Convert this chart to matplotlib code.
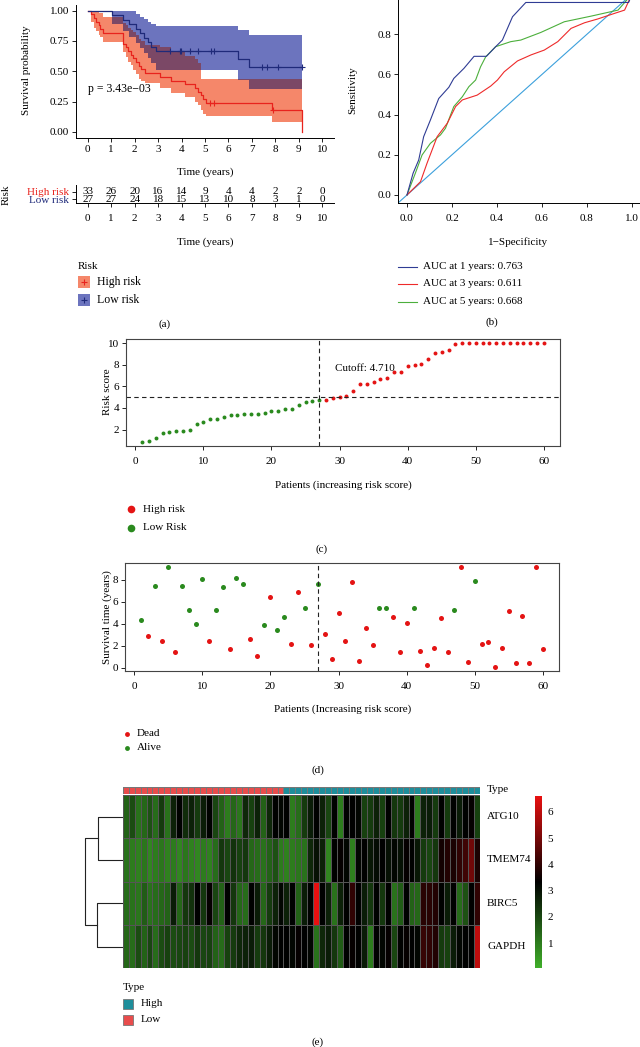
import numpy as np
import matplotlib
matplotlib.use('Agg')
import matplotlib.pyplot as plt
from matplotlib.colors import LinearSegmentedColormap, ListedColormap, Normalize
from matplotlib.patches import Rectangle
from matplotlib.lines import Line2D
from matplotlib.cm import ScalarMappable

plt.rcParams['font.family'] = ['Liberation Serif', 'DejaVu Serif']
plt.rcParams['font.size'] = 8

# ---------- (a) Kaplan-Meier ----------
km_hi_t = [0, 0.14, 0.26, 0.36, 0.46, 0.53, 0.64, 1.50, 1.64, 1.71, 1.85, 1.93, 2.07, 2.18, 2.28,
           2.43, 3.07, 3.57, 4.14, 4.56, 4.71, 4.82, 4.92, 5.06, 7.85, 9.13]
km_hi_s = [1, .970, .939, .909, .879, .848, .818, .727, .697, .667, .636, .606, .576, .545, .515,
           .485, .455, .424, .394, .364, .333, .303, .273, .242, .182, 0]
km_hi_up = [1, 1, 1, 1, .98, .98, .95, .90, .88, .86, .84, .82, .80, .77, .75,
            .72, .70, .66, .63, .60, .57, .44, .44, .44, .44, .44]
km_hi_lo = [1, .91, .855, .83, .80, .78, .745, .663, .62, .58, .55, .51, .48, .44, .42,
            .40, .36, .32, .29, .25, .22, .18, .15, .129, .08, .08]
km_hi_cens = [5.21, 5.39, 7.9]

km_lo_t = [0, 1.04, 1.50, 1.78, 2.07, 2.21, 2.38, 2.57, 2.71, 2.92, 6.42, 6.89, 9.15]
km_lo_s = [1, .963, .926, .889, .852, .815, .778, .741, .704, .667, .600, .533, .533]
km_lo_up = [1, 1, 1, 1, .97, .95, .93, .91, .89, .875, .84, .80, .80]
km_lo_lo = [1, .89, .83, .78, .73, .69, .65, .61, .57, .51, .43, .355, .355]
km_lo_cens = [3.5, 3.92, 3.96, 4.35, 4.7, 5.25, 5.39, 7.42, 7.63, 8.13, 9.15]

risk_times = [0, 1, 2, 3, 4, 5, 6, 7, 8, 9, 10]
n_high = [33, 26, 20, 16, 14, 9, 4, 4, 2, 2, 0]
n_low = [27, 27, 24, 18, 15, 13, 10, 8, 3, 1, 0]
p_text = 'p = 3.43e\u221203'

# ---------- (b) ROC ----------
fpr1 = [0, .027, .052, .074, .104, .141, .186, .208, .253, .298, .353, .394, .424, .469, .528, .985, 1.0]
tpr1 = [0, .108, .174, .29, .373, .48, .536, .58, .63, .69, .69, .738, .771, .887, .958, .958, 1.0]
fpr3 = [0, .06, .089, .134, .179, .216, .246, .312, .372, .402, .432, .491, .551, .610, .670, .729,
        .789, .848, .923, .967, 1.0]
tpr3 = [0, .066, .158, .29, .357, .44, .473, .497, .542, .572, .613, .667, .697, .721, .763, .829,
        .857, .876, .904, .92, 1.0]
fpr5 = [0, .037, .067, .104, .149, .171, .208, .246, .275, .305, .327, .350, .394, .461, .506, .595,
        .699, .818, .938, 1.0]
tpr5 = [0, .108, .199, .257, .299, .332, .44, .489, .539, .572, .638, .688, .738, .763, .771, .809,
        .862, .89, .92, 1.0]
auc_labels = ['AUC at 1 years: 0.763', 'AUC at 3 years: 0.611', 'AUC at 5 years: 0.668']

# ---------- (c) risk score ----------
n_low_risk = 27
risk_score = [0.86, 0.98, 1.2, 1.69, 1.78, 1.91, 1.91, 1.97, 2.52, 2.74, 2.98, 3.02, 3.2, 3.35, 3.38,
              3.42, 3.45, 3.48, 3.54, 3.72, 3.72, 3.88, 3.91, 4.25, 4.52, 4.68, 4.71,
              4.72, 4.95, 5.05, 5.08, 5.6, 6.22, 6.22, 6.43, 6.65, 6.77, 7.32, 7.32, 7.91, 7.94,
              8.03, 8.52, 9.05, 9.14, 9.35, 9.94, 10, 10, 10, 10, 10, 10, 10, 10, 10, 10, 10, 10, 10]
cutoff_line = 5.05

# ---------- (d) survival time ----------
surv_time = [4.32, 2.92, 7.45, 2.49, 9.12, 1.46, 7.39, 5.26, 3.95, 8.09, 2.43, 5.23, 7.36, 1.76, 8.15,
             7.63, 2.61, 1.06, 3.86, 6.41, 3.43, 4.65, 2.19, 6.87, 5.41, 2.10, 7.57, 3.07, 0.82, 4.98,
             2.46, 7.78, 0.61, 3.59, 2.10, 5.41, 5.41, 4.62, 1.46, 4.10, 5.41, 1.52, 0.27, 1.82, 4.56,
             1.49, 5.29, 9.12, 0.52, 7.84, 2.19, 2.37, 0.09, 1.85, 5.17, 0.46, 4.74, 0.46, 9.15, 1.76]
status = [0, 1, 0, 1, 0, 1, 0, 0, 0, 0, 1, 0, 0, 1, 0, 0, 1, 1, 0, 1, 0, 0, 1, 1, 0, 1, 0, 1, 1, 1,
          1, 1, 1, 1, 1, 0, 0, 1, 1, 1, 0, 1, 1, 1, 1, 1, 0, 1, 1, 0, 1, 1, 1, 1, 1, 1, 1, 1, 1, 1]

# ---------- (e) heatmap ----------
genes = ['ATG10', 'TMEM74', 'BIRC5', 'GAPDH']
atg10 = [1.5, 1.9, 1.2, 1.4, 1.8, 1.3, 2.2, 1.2, 2.7, 3.3, 2.5, 2.7, 2.2, 2.8, 3.3, 2.0, 1.5, 1.0, 1.4, 1.1,
         2.6, 2.1, 2.7, 1.5, 2.6, 3.3, 3.2, 3.3, 1.0, 1.3, 2.2, 2.8, 3.3, 2.7, 2.0, 3.3, 1.0, 3.3, 3.3, 3.2,
         2.1, 2.2, 2.7, 2.1, 3.3, 2.3, 2.2, 2.7, 3.3, 1.0, 2.7, 2.8, 2.2, 3.3, 2.2, 3.3, 2.8, 3.3, 3.4, 2.1]
tmem74 = [1.2, 1.0, 0.9, 1.1, 0.8, 1.0, 1.1, 0.9, 1.0, 0.8, 1.1, 0.9, 0.8, 1.0, 0.9, 1.3,
          2.3, 2.0, 2.4, 2.1, 2.3, 1.4, 1.3, 1.2, 1.5, 1.8, 1.0, 0.9, 1.0, 1.1, 1.2,
          2.6, 3.0, 2.7, 0.8, 3.3, 3.4, 3.2, 0.9, 3.2, 3.3, 2.9, 3.1, 3.3, 3.0, 3.2, 3.0, 3.4, 3.3, 2.9,
          2.2, 2.0, 2.3, 3.6, 3.8, 3.7, 4.0, 4.2, 4.9, 3.7]
birc5 = [1.3, 1.2, 1.1, 1.6, 1.2, 1.3, 1.4, 1.5, 2.8, 1.4, 2.3, 2.4, 3.3, 2.3, 3.4, 2.0, 1.5, 3.3, 2.3, 1.4,
         1.3, 3.3, 2.8, 1.4, 2.2, 2.7, 3.2, 2.7, 3.3, 1.5, 2.8, 3.3, 6.6, 3.3, 2.7, 1.2, 2.7, 3.3, 4.0, 3.3,
         2.8, 2.3, 3.3, 2.3, 3.3, 1.2, 1.6, 3.3, 1.5, 1.4, 3.9, 3.9, 3.8, 3.3, 2.8, 3.3, 1.3, 1.8, 3.3, 4.0]
gapdh = [1.4, 1.3, 1.9, 1.5, 2.0, 1.3, 1.9, 2.1, 1.9, 2.0, 2.1, 1.9, 2.3, 2.0, 2.1, 1.5, 1.3,
         2.1, 2.2, 2.6, 2.7, 2.8, 2.2, 2.3, 2.8, 3.2, 3.3, 3.3, 3.2, 3.4, 3.3, 3.2, 1.2, 2.6, 2.8, 2.3,
         1.6, 3.3, 3.4, 3.3, 2.8, 1.0, 3.3, 3.2, 3.4, 2.0, 3.3, 3.4, 3.3, 3.2, 4.1, 4.0, 3.8, 2.2, 2.1,
         2.8, 3.2, 3.3, 3.3, 6.0]
sample_type = [0] * 27 + [1] * 33   # 0 = Low, 1 = High
merge_heights = [0.647, 0.674, 1.0]  # (ATG10,TMEM74), (BIRC5,GAPDH), root

W, H = 640, 1047
fig = plt.figure(figsize=(W / 100, H / 100), dpi=100)


def box(l, t, r, b):
    return [l / W, 1 - b / H, (r - l) / W, (b - t) / H]


def ftext(x, y, s, **kw):
    kw.setdefault('va', 'center')
    fig.text(x / W, 1 - y / H, s, **kw)


def fpt(x, y):
    return x / W, 1 - y / H


def ticks(ax):
    ax.tick_params(direction='out', length=3, width=0.6, pad=2, labelsize=8)


def step_at(tt, vals, grid):
    tt, vals = np.array(tt), np.array(vals)
    return vals[np.clip(np.searchsorted(tt, grid, side='right') - 1, 0, len(vals) - 1)]


RED = '#e8231d'
NAVY = '#1f2a7a'

# ---- (a) KM curve
ax = fig.add_axes(box(76, 4.6, 334, 138))
ax.fill_between(km_hi_t, km_hi_lo, km_hi_up, step='post', color='#f5876a', lw=0)
ax.fill_between(km_lo_t, km_lo_lo, km_lo_up, step='post', color='#6c74be', lw=0)
# overlap of the two confidence bands
grid = np.unique(np.concatenate([km_hi_t, km_lo_t]))
grid = grid[grid <= min(km_hi_t[-1], km_lo_t[-1])]
ov_lo = np.maximum(step_at(km_hi_t, km_hi_lo, grid), step_at(km_lo_t, km_lo_lo, grid))
ov_up = np.minimum(step_at(km_hi_t, km_hi_up, grid), step_at(km_lo_t, km_lo_up, grid))
ax.fill_between(grid, ov_lo, np.maximum(ov_up, ov_lo), step='post', color='#7b4866', lw=0)
ax.step(km_hi_t, km_hi_s, where='post', color=RED, lw=0.9)
ax.step(km_lo_t, km_lo_s, where='post', color=NAVY, lw=0.9)
for ct, tt, ss, col in [(km_hi_cens, km_hi_t, km_hi_s, RED), (km_lo_cens, km_lo_t, km_lo_s, NAVY)]:
    ax.plot(ct, step_at(tt, ss, ct), ls='none', marker='+', ms=4, mew=0.8, color=col)
ax.text(0, 0.35, p_text, fontsize=8.5, va='center')
ax.set_xlim(-0.5, 10.5)
ax.set_ylim(-0.05, 1.05)
ax.set_xticks(range(0, 11))
ax.set_yticks([0, 0.25, 0.5, 0.75, 1.0])
ax.set_yticklabels(['0.00', '0.25', '0.50', '0.75', '1.00'])
for s in ['top', 'right']:
    ax.spines[s].set_visible(False)
for s in ['left', 'bottom']:
    ax.spines[s].set_linewidth(0.7)
ticks(ax)
ftext(27, 70, 'Survival probability', rotation=90, ha='center')
ftext(205, 172, 'Time (years)', ha='center')

# risk table
at = fig.add_axes(box(76, 185, 334, 203))
row_hi, row_lo = 0.62, 0.22
for t, a, b in zip(risk_times, n_high, n_low):
    at.text(t, row_hi, str(a), ha='center', va='center', fontsize=8)
    at.text(t, row_lo, str(b), ha='center', va='center', fontsize=8)
at.set_xlim(-0.5, 10.5)
at.set_ylim(0, 1)
at.set_xticks(range(0, 11))
at.set_yticks([row_hi, row_lo])
at.set_yticklabels(['High risk', 'Low risk'], fontsize=8.5)
at.get_yticklabels()[0].set_color(RED)
at.get_yticklabels()[1].set_color(NAVY)
for s in ['top', 'right']:
    at.spines[s].set_visible(False)
for s in ['left', 'bottom']:
    at.spines[s].set_linewidth(0.7)
ticks(at)
at.tick_params(axis='x', pad=5)
ftext(6, 195, 'Risk', rotation=90, ha='center')
ftext(205, 242, 'Time (years)', ha='center')

# legend (a)
ftext(78, 267, 'Risk', ha='left')
fig.add_artist(Rectangle(fpt(78, 288), 12 / W, 12 / H, transform=fig.transFigure, color='#f5876a', lw=0))
fig.add_artist(Line2D([84 / W], [1 - 282 / H], marker='+', ms=5, mew=0.8, color=RED, transform=fig.transFigure))
ftext(97, 282, 'High risk', ha='left', fontsize=8.5)
fig.add_artist(Rectangle(fpt(78, 306), 12 / W, 12 / H, transform=fig.transFigure, color='#6c74be', lw=0))
fig.add_artist(Line2D([84 / W], [1 - 300 / H], marker='+', ms=5, mew=0.8, color=NAVY, transform=fig.transFigure))
ftext(97, 300, 'Low risk', ha='left', fontsize=8.5)
ftext(165, 324, '(a)', ha='center')

# ---- (b) ROC
ar = fig.add_axes(box(398, -14, 641, 203))
ar.plot([-0.04, 1.04], [-0.04, 1.04], color='#3ca0dc', lw=0.8)
ar.plot(fpr5, tpr5, color='#4caf3c', lw=0.8)
ar.plot(fpr3, tpr3, color='#ee2a2a', lw=0.8)
ar.plot(fpr1, tpr1, color='#2f3c94', lw=0.8)
ar.set_xlim(-0.04, 1.04)
ar.set_ylim(-0.04, 1.04)
ar.set_xticks([0, 0.2, 0.4, 0.6, 0.8, 1.0])
ar.set_yticks([0, 0.2, 0.4, 0.6, 0.8])
ar.set_xticklabels(['0.0', '0.2', '0.4', '0.6', '0.8', '1.0'])
ar.set_yticklabels(['0.0', '0.2', '0.4', '0.6', '0.8'])
for s in ar.spines.values():
    s.set_linewidth(0.7)
ticks(ar)
ar.tick_params(axis='x', pad=5)
ftext(353, 90, 'Sensitivity', rotation=90, ha='center')
ftext(518, 242, '1\u2212Specificity', ha='center')
for yy, col, lab in zip([267, 284, 302], ['#2f3c94', '#ee2a2a', '#4caf3c'], auc_labels):
    fig.add_artist(Line2D([398 / W, 417 / W], [1 - yy / H] * 2, color=col, lw=0.8, transform=fig.transFigure))
    ftext(423, yy, lab, ha='left')
ftext(492, 322, '(b)', ha='center')

# ---- (c) risk score
patients = np.arange(1, len(risk_score) + 1)
ac = fig.add_axes(box(126, 339, 560, 446))
ac.scatter(patients[:n_low_risk], risk_score[:n_low_risk], s=8, color='#2a8a1e', lw=0)
ac.scatter(patients[n_low_risk:], risk_score[n_low_risk:], s=8, color='#e41414', lw=0)
ac.axvline(n_low_risk, color='#222222', ls=(0, (4, 3)), lw=0.8)
ac.axhline(cutoff_line, color='#222222', ls=(0, (4, 3)), lw=0.8)
ac.text(29.3, 7.6, 'Cutoff: 4.710', fontsize=8, va='center')
ac.set_xlim(-1.36, 62.36)
ac.set_ylim(0.48, 10.37)
ac.set_xticks(range(0, 61, 10))
ac.set_yticks([2, 4, 6, 8, 10])
for s in ac.spines.values():
    s.set_linewidth(0.8)
    s.set_color('#444444')
ticks(ac)
ac.tick_params(axis='x', pad=5)
ftext(107, 392, 'Risk score', rotation=90, ha='center')
ftext(343, 485, 'Patients (increasing risk score)', ha='center')
fig.add_artist(Line2D([131 / W], [1 - 509 / H], marker='o', ms=5.5, mew=0, color='#e41414', transform=fig.transFigure))
ftext(143, 509, 'High risk', ha='left')
fig.add_artist(Line2D([131 / W], [1 - 528 / H], marker='o', ms=5.5, mew=0, color='#2a8a1e', transform=fig.transFigure))
ftext(143, 528, 'Low Risk', ha='left')
ftext(322, 549, '(c)', ha='center')

# ---- (d) survival time
st = np.array(status)
stime = np.array(surv_time)
ad = fig.add_axes(box(125, 563, 559, 671))
ad.scatter(patients[st == 1], stime[st == 1], s=13, color='#e41414', lw=0)
ad.scatter(patients[st == 0], stime[st == 0], s=13, color='#2a8a1e', lw=0)
ad.axvline(n_low_risk, color='#222222', ls=(0, (4, 3)), lw=0.8)
ad.set_xlim(-1.36, 62.36)
rng = stime.max() - stime.min()
ad.set_ylim(stime.min() - 0.04 * rng, stime.max() + 0.04 * rng)
ad.set_xticks(range(0, 61, 10))
ad.set_yticks([0, 2, 4, 6, 8])
for s in ad.spines.values():
    s.set_linewidth(0.8)
    s.set_color('#444444')
ticks(ad)
ad.tick_params(axis='x', pad=5)
ftext(107, 617, 'Survival time (years)', rotation=90, ha='center')
ftext(343, 709, 'Patients (Increasing risk score)', ha='center')
fig.add_artist(Line2D([127 / W], [1 - 734 / H], marker='o', ms=3.5, mew=0, color='#e41414', transform=fig.transFigure))
ftext(137, 734, 'Dead', ha='left')
fig.add_artist(Line2D([127 / W], [1 - 748 / H], marker='o', ms=3.5, mew=0, color='#2a8a1e', transform=fig.transFigure))
ftext(137, 748, 'Alive', ha='left')
ftext(318, 770, '(d)', ha='center')

# ---- (e) heatmap
mat = np.array([atg10, tmem74, birc5, gapdh])
cmap = LinearSegmentedColormap.from_list('gbr', ['#3fae29', '#000000', '#e81010'])
norm = Normalize(vmin=0.05, vmax=6.6)
ah = fig.add_axes(box(122.7, 795, 480, 968.3))
ah.pcolormesh(np.arange(mat.shape[1] + 1), np.arange(mat.shape[0] + 1), mat, cmap=cmap, norm=norm,
              edgecolors='#555555', linewidth=0.4)
ah.set_ylim(mat.shape[0], 0)
ah.set_xlim(0, mat.shape[1])
ah.axis('off')

aty = fig.add_axes(box(122.7, 786.7, 480, 794))
aty.pcolormesh(np.arange(len(sample_type) + 1), [0, 1], [sample_type],
               cmap=ListedColormap(['#e84c4c', '#1e8e9b']), vmin=0, vmax=1,
               edgecolors='#777777', linewidth=0.4)
aty.set_xlim(0, len(sample_type))
aty.axis('off')
ftext(487, 790, 'Type', ha='left')
for i, g in enumerate(genes):
    ftext(487, 795 + (i + 0.5) * 43.3, g, ha='left')

# dendrogram
adn = fig.add_axes(box(80, 795, 122.7, 968.3))
h1, h2, h0 = merge_heights
adn.plot([0, h1, h1, 0], [0.5, 0.5, 1.5, 1.5], color='#222222', lw=0.8)
adn.plot([0, h2, h2, 0], [2.5, 2.5, 3.5, 3.5], color='#222222', lw=0.8)
adn.plot([h1, h0, h0, h2], [1.0, 1.0, 3.0, 3.0], color='#222222', lw=0.8)
adn.set_xlim(1.133, 0)
adn.set_ylim(4, 0)
adn.axis('off')

cax = fig.add_axes(box(535, 796, 542, 968))
cb = fig.colorbar(ScalarMappable(norm=norm, cmap=cmap), cax=cax, ticks=[1, 2, 3, 4, 5, 6])
cb.outline.set_visible(False)
cax.tick_params(length=0, pad=4, labelsize=8)

ftext(123, 987, 'Type', ha='left')
fig.add_artist(Rectangle(fpt(123, 1009), 10 / W, 10 / H, transform=fig.transFigure,
                         facecolor='#1e8e9b', edgecolor='#777777', lw=0.6))
ftext(141, 1004, 'High', ha='left')
fig.add_artist(Rectangle(fpt(123, 1025), 10 / W, 10 / H, transform=fig.transFigure,
                         facecolor='#e84c4c', edgecolor='#777777', lw=0.6))
ftext(141, 1020, 'Low', ha='left')
ftext(318, 1042, '(e)', ha='center')

fig.savefig('out.png', dpi=100)
